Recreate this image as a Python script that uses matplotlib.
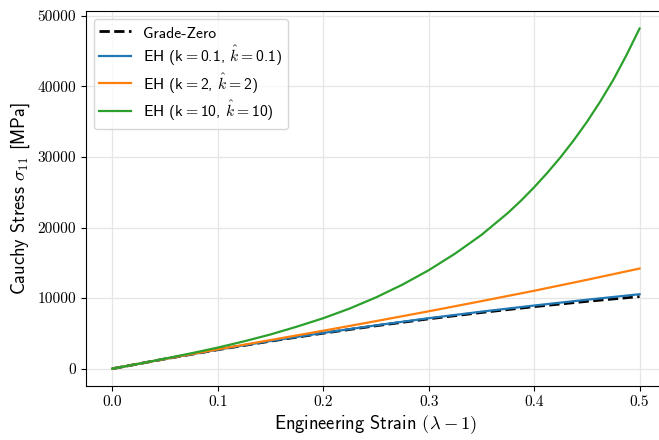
import numpy as np
import matplotlib
matplotlib.use("Agg")
import matplotlib.pyplot as plt

plt.rcParams['mathtext.fontset'] = 'cm'
plt.rcParams['axes.unicode_minus'] = False

# Uniaxial stress-strain response, Grade-Zero vs. EH models
strain = [0.0, 0.05, 0.1, 0.15, 0.2, 0.25, 0.3, 0.35, 0.4, 0.45, 0.5]
grade_zero = [0, 1385, 2690, 3905, 5030, 6080, 7060, 7960, 8790, 9540, 10220]
eh_k01 = [0, 1390, 2700, 3930, 5070, 6140, 7150, 8080, 8950, 9770, 10550]
eh_k2 = [0, 1390, 2740, 4060, 5380, 6740, 8130, 9570, 11040, 12590, 14190]

# stiff case needs a denser strain grid near the end
strain_k10 = [0.0, 0.025, 0.05, 0.075, 0.1, 0.125, 0.15, 0.175, 0.2, 0.225,
              0.25, 0.275, 0.3, 0.325, 0.35, 0.375, 0.3875, 0.4, 0.4125,
              0.425, 0.4375, 0.45, 0.4625, 0.475, 0.4875, 0.5]
eh_k10 = [0, 690, 1430, 2190, 2990, 3880, 4850, 5960, 7150, 8520,
          10100, 11900, 13950, 16300, 18950, 22050, 23800, 25700, 27750,
          29950, 32350, 34950, 37800, 40900, 44400, 48200]

fig = plt.figure(figsize=(6.59, 4.40), dpi=100)
ax = fig.add_axes([0.1305, 0.1234, 0.880, 0.8505])

ax.plot(strain, grade_zero, 'k--', lw=2, label='Grade-Zero')
ax.plot(strain, eh_k01, color='tab:blue', lw=1.6, label=r'EH (k${=}$0.1, $\hat{k}{=}$0.1)')
ax.plot(strain, eh_k2, color='tab:orange', lw=1.6, label=r'EH (k${=}$2, $\hat{k}{=}$2)')
ax.plot(strain_k10, eh_k10, color='tab:green', lw=1.6, label=r'EH (k${=}$10, $\hat{k}{=}$10)')

ax.set_xticks([0.0, 0.1, 0.2, 0.3, 0.4, 0.5])
ax.set_yticks([0, 10000, 20000, 30000, 40000, 50000])
for lab in ax.get_xticklabels() + ax.get_yticklabels():
    lab.set_fontfamily('cmr10')
    lab.set_fontsize(11)

ax.grid(True, color='#e6e6e6', lw=0.9)
ax.set_axisbelow(True)
ax.set_xlabel(r'Engineering Strain $(\lambda - 1)$', family='cmss10', fontsize=13.3, labelpad=3)
ax.set_ylabel(r'Cauchy Stress $\sigma_{11}$ [MPa]', family='cmss10', fontsize=13.3)

ax.legend(loc='upper left', prop={'family': 'cmss10', 'size': 11.3},
          handleheight=1.1, labelspacing=0.2, borderpad=0.35, handlelength=2.0)

fig.savefig('out.png', dpi=100)
